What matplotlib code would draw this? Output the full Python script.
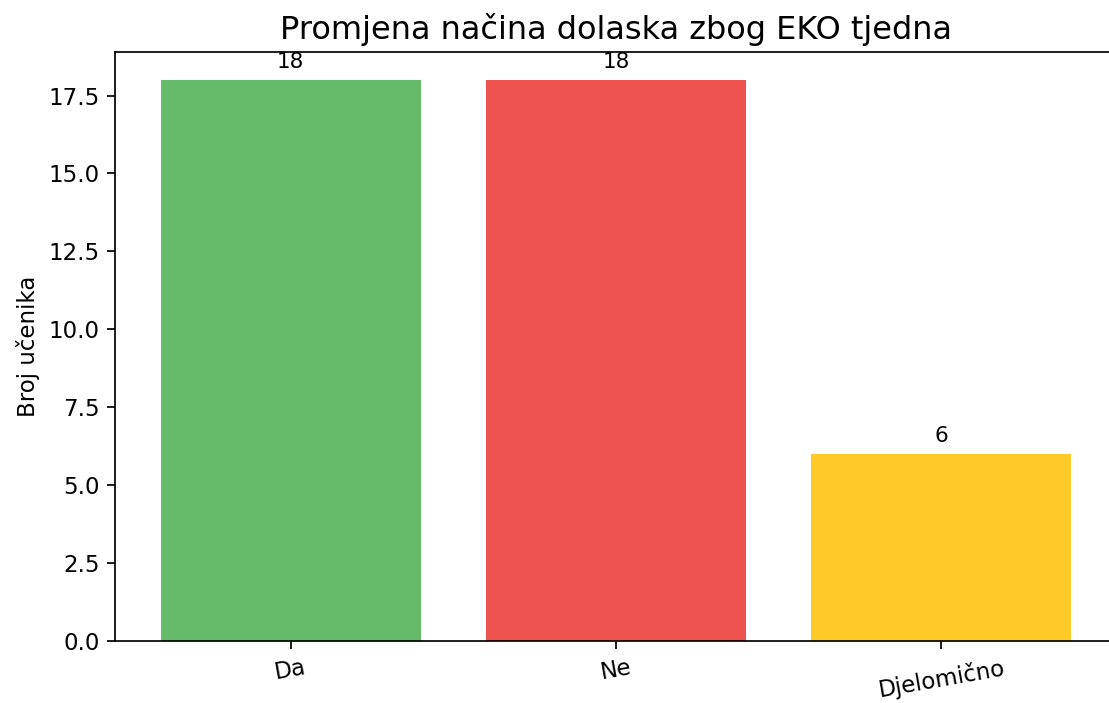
import matplotlib
matplotlib.use('Agg')
from matplotlib import pyplot as plt

kategorije = ['Da', 'Ne', 'Djelomično']
broj_ucenika = [18, 18, 6]
boje = ['#66bb6a', '#ef5350', '#ffca28']

s = 1.55  # original je renderiran u vecoj rezoluciji
plt.rcParams['axes.linewidth'] = 0.8 * s
plt.rcParams['xtick.major.size'] = 3.5 * s
plt.rcParams['ytick.major.size'] = 3.5 * s
plt.rcParams['xtick.major.width'] = 0.8 * s
plt.rcParams['ytick.major.width'] = 0.8 * s
plt.rcParams['xtick.major.pad'] = 3.5 * s
plt.rcParams['ytick.major.pad'] = 3.5 * s

fig = plt.figure(figsize=(11.09, 7.03), dpi=100)
# desni rub osi je odrezan na originalnoj slici
ax = fig.add_axes([0.1037, 0.0882, 0.9035, 0.838])

stupci = ax.bar(kategorije, broj_ucenika, color=boje, width=0.8)
ax.bar_label(stupci, padding=5.5, fontsize=15.5)

ax.set_title('Promjena načina dolaska zbog EKO tjedna', fontsize=23, pad=6 * s)
ax.set_ylabel('Broj učenika', fontsize=16.5, labelpad=4 * s)
ax.tick_params(axis='both', labelsize=16.5)
plt.setp(ax.get_xticklabels(), rotation=10)

fig.savefig('out.png', dpi=100)
